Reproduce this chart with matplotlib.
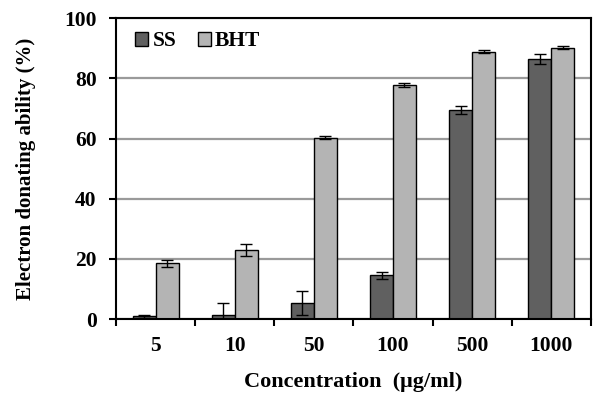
import numpy as np
import matplotlib.pyplot as plt

categories = ['5', '10', '50', '100', '500', '1000']
ss = [1.0, 1.5, 5.4, 14.5, 69.5, 86.3]
ss_err = [0.5, 3.9, 3.9, 1.3, 1.2, 1.7]
bht = [18.5, 23.0, 60.3, 77.8, 88.9, 90.1]
bht_err = [1.2, 2.0, 0.5, 0.6, 0.6, 0.5]

plt.rcParams['font.family'] = 'Liberation Serif'
plt.rcParams['font.weight'] = 'bold'

fig = plt.figure(figsize=(5.95, 3.94), dpi=100)
ax = fig.add_axes([0.195, 0.19, 0.798, 0.764])

x = np.arange(len(categories))
w = 0.29
ax.set_axisbelow(True)
ax.yaxis.grid(True, color='#9a9a9a', linewidth=1.6)
ax.bar(x - w / 2, ss, w, color='#606060', edgecolor='black', linewidth=1,
       yerr=ss_err, capsize=4, error_kw={'elinewidth': 1, 'capthick': 1}, label='SS')
ax.bar(x + w / 2, bht, w, color='#b4b4b4', edgecolor='black', linewidth=1,
       yerr=bht_err, capsize=4, error_kw={'elinewidth': 1, 'capthick': 1}, label='BHT')

ax.set_xlim(-0.5, len(categories) - 0.5)
ax.set_ylim(0, 100)
ax.set_yticks(range(0, 101, 20))
ax.set_xticks(x)
ax.set_xticklabels(categories, fontsize=15.5, fontweight='bold')
ax.set_xticks(np.arange(-0.5, len(categories)), minor=True)
ax.tick_params(axis='x', which='major', length=0, pad=12)
ax.tick_params(axis='x', which='minor', length=5, width=1.5, direction='out')
ax.tick_params(axis='y', length=5, width=1.5, direction='out', labelsize=15.5, pad=9)
for lab in ax.get_yticklabels():
    lab.set_fontweight('bold')
for s in ax.spines.values():
    s.set_linewidth(1.5)

ax.set_ylabel('Electron donating ability (%)', fontsize=15, fontweight='bold', labelpad=20)
ax.set_xlabel('Concentration  (μg/ml)', fontsize=16, fontweight='bold', labelpad=12)

ax.legend(loc='upper left', frameon=False, ncol=2, fontsize=15.5, handlelength=0.6,
          handleheight=0.6, handletextpad=0.2, columnspacing=1.0,
          bbox_to_anchor=(0.0, 1.02))

fig.savefig('out.png')
